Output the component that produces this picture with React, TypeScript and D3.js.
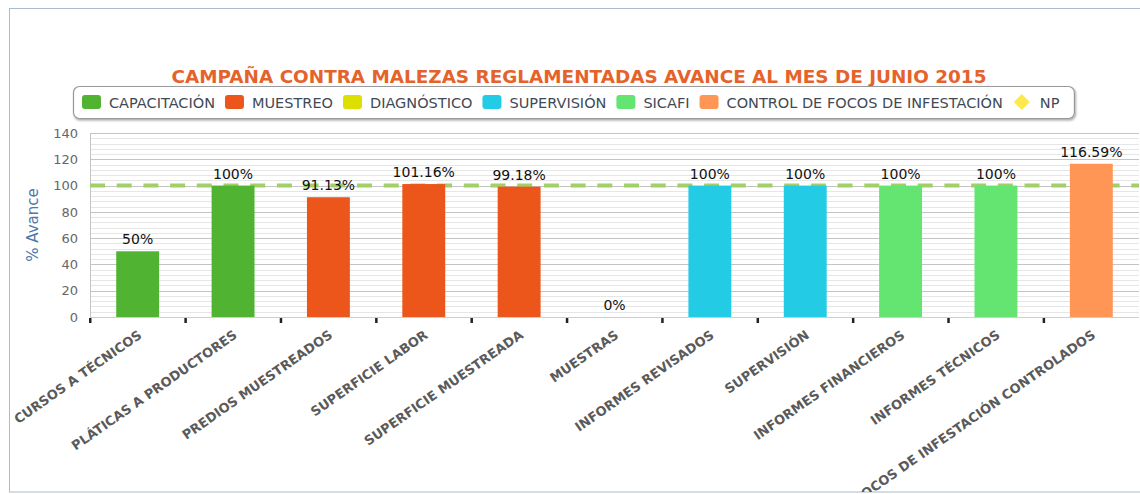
import React, { useMemo } from "react";
import * as d3 from "d3";

const titleText = "CAMPAÑA CONTRA MALEZAS REGLAMENTADAS AVANCE AL MES DE JUNIO 2015";
const yAxisTitle = "% Avance";

const categories = [
  "CURSOS A TÉCNICOS",
  "PLÁTICAS A PRODUCTORES",
  "PREDIOS MUESTREADOS",
  "SUPERFICIE LABOR",
  "SUPERFICIE MUESTREADA",
  "MUESTRAS",
  "INFORMES REVISADOS",
  "SUPERVISIÓN",
  "INFORMES FINANCIEROS",
  "INFORMES TÉCNICOS",
  "FOCOS DE INFESTACIÓN CONTROLADOS",
];
const values = [50, 100, 91.13, 101.16, 99.18, 0, 100, 100, 100, 100, 116.59];
const categorySeries = [
  "CAPACITACIÓN",
  "CAPACITACIÓN",
  "MUESTREO",
  "MUESTREO",
  "MUESTREO",
  "DIAGNÓSTICO",
  "SUPERVISIÓN",
  "SUPERVISIÓN",
  "SICAFI",
  "SICAFI",
  "CONTROL DE FOCOS DE INFESTACIÓN",
];
const seriesNames = [
  "CAPACITACIÓN",
  "MUESTREO",
  "DIAGNÓSTICO",
  "SUPERVISIÓN",
  "SICAFI",
  "CONTROL DE FOCOS DE INFESTACIÓN",
  "NP",
];
const seriesColors = ["#50B432", "#ED561B", "#DDDF00", "#24CBE5", "#64E572", "#FF9655", "#FFE84D"];
const yTicks = [0, 20, 40, 60, 80, 100, 120, 140];
const targetValue = 100;

const W = 1140;
const H = 494;
const plot = { left: 90, right: 1139, top: 133, bottom: 317 };
const FONT = "DejaVu Sans, Verdana, sans-serif";
const legendFontSize = 14.5;

function measure(text: string, font: string): number {
  if (typeof document === "undefined") return text.length * 9;
  const c = document.createElement("canvas");
  const ctx = c.getContext("2d");
  if (!ctx) return text.length * 9;
  ctx.font = font;
  return ctx.measureText(text).width;
}

export default function App() {
  const x = d3.scaleBand<string>().domain(categories).range([plot.left, plot.right]).paddingInner(0).paddingOuter(0);
  const y = d3.scaleLinear().domain([0, 140]).range([plot.bottom, plot.top]);
  const color = d3.scaleOrdinal<string, string>().domain(seriesNames).range(seriesColors);
  const minorTicks = d3.range(0, 141, 4);
  const barW = x.bandwidth() * 0.45;

  const legendItems = useMemo(() => {
    let cx = 82;
    return seriesNames.map((name) => {
      const w = measure(name, `${legendFontSize}px DejaVu Sans`);
      const item = { name, x: cx, w };
      cx += 27 + w + 10;
      return item;
    });
  }, []);

  const last = legendItems[legendItems.length - 1];
  const legendRight = last.x + 27 + last.w + 15;

  return (
    <svg
      width={W}
      height={H}
      style={{ position: "absolute", left: 0, top: 0, background: "#fff" }}
      fontFamily={FONT}
    >
      <defs>
        <filter id="lshadow" x="-5%" y="-30%" width="110%" height="170%">
          <feDropShadow dx="1" dy="1.5" stdDeviation="1.2" floodColor="#000" floodOpacity="0.35" />
        </filter>
        <clipPath id="frameClip">
          <rect x={9} y={8} width={W} height={484} />
        </clipPath>
      </defs>
      <rect x={9.5} y={8.5} width={W + 20} height={483.5} fill="#fff" stroke="#a9bccd" strokeWidth={1} />

      <g clipPath="url(#frameClip)">
        <text x={579} y={83} textAnchor="middle" fontWeight="bold" fontSize={18.4} fill="#e5632a">
          {titleText}
        </text>

        <rect
          x={73.5}
          y={86.5}
          width={legendRight - 73.5}
          height={32}
          rx={6}
          fill="#fff"
          stroke="#9a9a9a"
          strokeWidth={1.2}
          filter="url(#lshadow)"
        />
        {legendItems.map((it) => (
          <g key={it.name}>
            {it.name === "NP" ? (
              <path
                d={`M${it.x + 9},${94} L${it.x + 17},${102} L${it.x + 9},${110} L${it.x + 1},${102} Z`}
                fill={color(it.name)}
              />
            ) : (
              <rect x={it.x} y={95} width={19} height={14} rx={3} fill={color(it.name)} />
            )}
            <text x={it.x + 27} y={107.5} fontSize={legendFontSize} fill="#3f4a56">
              {it.name}
            </text>
          </g>
        ))}

        <rect x={plot.left} y={plot.top} width={plot.right - plot.left} height={plot.bottom - plot.top} fill="#fff" />
        {minorTicks.map((t) => (
          <line key={"m" + t} x1={plot.left} x2={plot.right} y1={Math.round(y(t)) + 0.5} y2={Math.round(y(t)) + 0.5} stroke="#e6e6e6" strokeWidth={1} />
        ))}
        {yTicks.map((t) => (
          <line key={"g" + t} x1={plot.left} x2={plot.right} y1={Math.round(y(t)) + 0.5} y2={Math.round(y(t)) + 0.5} stroke="#c4c4c4" strokeWidth={1} />
        ))}
        <line x1={plot.left + 0.5} x2={plot.left + 0.5} y1={plot.top} y2={plot.bottom} stroke="#c4c4c4" />
        <line x1={plot.left} x2={plot.right} y1={plot.top + 0.5} y2={plot.top + 0.5} stroke="#c4c4c4" />

        {yTicks.map((t) => (
          <text key={"yl" + t} x={78} y={y(t)} dy="0.36em" textAnchor="end" fontSize={13} fill="#666">
            {t}
          </text>
        ))}
        <text
          transform={`translate(38,${(plot.top + plot.bottom) / 2}) rotate(-90)`}
          textAnchor="middle"
          fontSize={15}
          fill="#4d79a8"
        >
          {yAxisTitle}
        </text>

        <line
          x1={plot.left}
          x2={plot.right}
          y1={y(targetValue)}
          y2={y(targetValue)}
          stroke="#a3cf69"
          strokeWidth={4}
          strokeDasharray="15,11.7"
        />

        {categories.map((c, i) => {
          const cx = (x(c) as number) + x.bandwidth() / 2;
          return (
            <rect
              key={"b" + c}
              x={cx - barW / 2}
              y={y(values[i])}
              width={barW}
              height={y(0) - y(values[i])}
              fill={color(categorySeries[i])}
            />
          );
        })}

        <line x1={plot.left} x2={plot.right} y1={plot.bottom + 0.5} y2={plot.bottom + 0.5} stroke="#c8cfd8" />
        {categories.map((c) => (
          <rect key={"t" + c} x={(x(c) as number) - 1} y={plot.bottom + 1} width={2.5} height={5} fill="#222" />
        ))}

        {categories.map((c, i) => {
          const cx = (x(c) as number) + x.bandwidth() / 2;
          return (
            <text key={"dl" + c} x={cx} y={y(values[i]) - 7} textAnchor="middle" fontSize={14} fill="#111">
              {`${values[i]}%`}
            </text>
          );
        })}

        {categories.map((c) => {
          const cx = (x(c) as number) + x.bandwidth() / 2;
          return (
            <text
              key={"xl" + c}
              transform={`translate(${cx + 5},${plot.bottom + 20}) rotate(-35)`}
              textAnchor="end"
              fontSize={13}
              fontWeight="bold"
              fill="#5a5a5a"
            >
              {c}
            </text>
          );
        })}
      </g>
    </svg>
  );
}
